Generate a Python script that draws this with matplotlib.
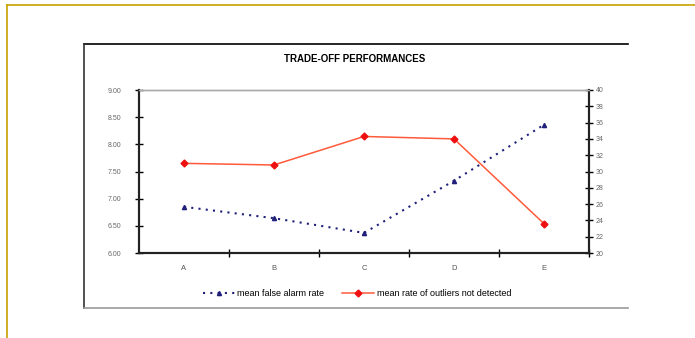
import matplotlib
matplotlib.use("Agg")
import matplotlib.pyplot as plt
from matplotlib.lines import Line2D

plt.rcParams['font.family'] = ['Liberation Sans', 'DejaVu Sans']

# data
categories = ["A", "B", "C", "D", "E"]
false_alarm = [6.85, 6.64, 6.37, 7.33, 8.36]
not_detected = [31.0, 30.8, 34.3, 34.0, 23.6]
left_ticks = [6.0, 6.5, 7.0, 7.5, 8.0, 8.5, 9.0]
right_ticks = [20, 22, 24, 26, 28, 30, 32, 34, 36, 38, 40]

fig = plt.figure(figsize=(6.95, 3.38), dpi=100)

# outer page frame (gold) and chart box
gold = "#c9a200"
fig.add_artist(Line2D([7/695, 1], [1-5/338, 1-5/338], color=gold, lw=1.2))
fig.add_artist(Line2D([7/695, 7/695], [0, 1-5/338], color=gold, lw=1.2))
fig.add_artist(Line2D([84/695, 628/695], [1-44/338, 1-44/338], color="black", lw=1.2))
fig.add_artist(Line2D([84/695, 84/695], [1-308/338, 1-44/338], color="#333333", lw=1.2))
fig.add_artist(Line2D([84/695, 628/695], [1-308/338, 1-308/338], color="#999999", lw=1.2))

ax = fig.add_axes([139/695, 1-253/338, 450/695, 163/338])
ax2 = ax.twinx()

x = list(range(len(categories)))
l1, = ax.plot(x, false_alarm, color="#20207a", ls=(0, (1, 2.5)), lw=1.5,
              marker="^", ms=3, label="mean false alarm rate")
l2, = ax2.plot(x, not_detected, color="#ff5a3a", lw=1.1,
               marker="D", ms=3.5, mfc="#ee1010", mec="#ee1010",
               label="mean rate of outliers not detected")

ax.set_xlim(-0.5, len(categories) - 0.5)
ax.set_ylim(6, 9)
ax2.set_ylim(20, 40)
ax.set_yticks(left_ticks)
ax.set_yticklabels([f"{v:.2f}" for v in left_ticks])
ax2.set_yticks(right_ticks)
ax2.set_yticklabels([str(v) for v in right_ticks])

ax.set_xticks(x)
ax.set_xticklabels(categories)
ax.set_xticks([i + 0.5 for i in range(len(categories))], minor=True)
ax.tick_params(axis="x", which="major", length=0, pad=9, labelsize=5.5, colors="#555555")
ax.tick_params(axis="x", which="minor", direction="inout", length=6, width=1)
ax.tick_params(axis="y", direction="inout", length=6, width=1, labelsize=5,
               labelcolor="#666666", pad=10)
ax2.tick_params(axis="y", direction="inout", length=6, width=1, labelsize=5,
                labelcolor="#666666", pad=2)

for a in (ax, ax2):
    a.spines["top"].set_color("#aaaaaa")
    a.spines["top"].set_linewidth(1)
    for s in ("left", "right", "bottom"):
        a.spines[s].set_linewidth(1.5)
        a.spines[s].set_color("#222222")

fig.text(355/695, 1-59/338, "TRADE-OFF PERFORMANCES", ha="center", va="center",
         fontsize=7, fontweight="bold")

fig.legend([l1, l2], [l1.get_label(), l2.get_label()], ncol=2, frameon=False,
           loc="center", bbox_to_anchor=(357/695, 1-294/338), fontsize=6.5,
           handlelength=3.5, columnspacing=2, handletextpad=0.3)

fig.savefig("out.png", dpi=100)
